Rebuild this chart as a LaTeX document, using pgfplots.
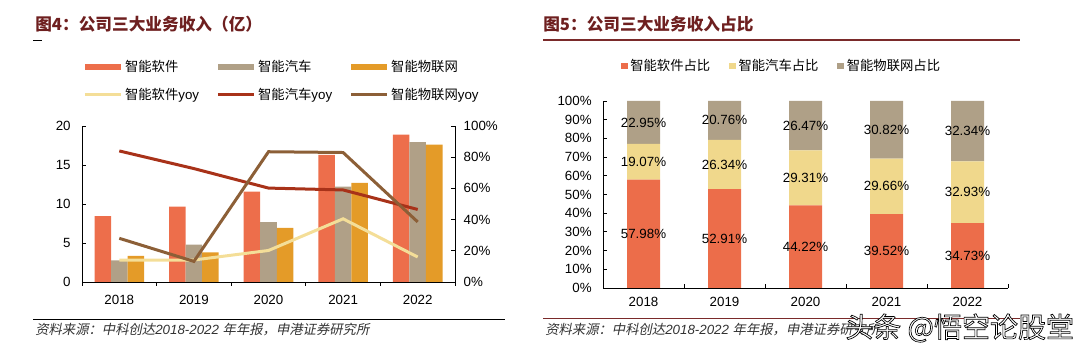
\documentclass[border=0pt]{standalone}
\usepackage{pgfplots}
\pgfplotsset{compat=1.18}
\usepackage{pgfplotstable}
\usepackage{fontspec}
\setmainfont{Liberation Sans}
\newfontfamily\cjk{Noto Sans CJK SC}
\newfontfamily\cjkit{Noto Sans CJK SC}[FakeSlant=0.2]
\pgfkeys{/pgf/number format/assume math mode=true}

\definecolor{cSW}{HTML}{ED6E4B}
\definecolor{cAU}{HTML}{B0A087}
\definecolor{cIOT}{HTML}{E49B28}
\definecolor{cYSW}{HTML}{F4DE98}
\definecolor{cYAU}{HTML}{A83219}
\definecolor{cYIOT}{HTML}{8C5F37}
\definecolor{cS1}{HTML}{EC6D4A}
\definecolor{cS2}{HTML}{F0D88C}
\definecolor{cS3}{HTML}{AFA087}
\definecolor{cTitle}{HTML}{6E1F1F}
\definecolor{cRule}{HTML}{7A2A2A}

\pgfplotstableread{
x sw auto iot
0 8.46 2.78 3.35
1 9.65 4.80 3.79
2 11.60 7.69 6.94
3 16.30 12.23 12.71
4 18.90 17.92 17.60
}\revdata
\pgfplotstableread{
x sw auto iot
0 14.0 84.0 28.0
1 14.1 72.7 13.2
2 20.2 60.2 83.5
3 40.5 59.0 83.0
4 16.0 46.5 38.5
}\yoydata
\pgfplotstableread{
x sw auto iot
0 57.98 19.07 22.95
1 52.91 26.34 20.76
2 44.22 29.31 26.47
3 39.52 29.66 30.82
4 34.73 32.93 32.34
}\sharedata

\pgfplotsset{
  base/.style={
    scale only axis,
    xmin=-0.5, xmax=4.5,
    axis line style={line width=0.6pt, black},
    tick style={line width=0.6pt, black},
    tick align=inside,
    major tick length=3pt,
    tick label style={font=\fontsize{10}{12}\selectfont},
    xticklabel style={yshift=-3pt},
  },
  barlegend/.style={legend image code/.code={\fill[##1] (0pt,-2.5pt) rectangle (27pt,2.5pt);}},
  linelegend/.style={legend image code/.code={\draw[##1] (0pt,0pt) -- (27pt,0pt);}},
  sqlegend/.style={legend image code/.code={\fill[##1] (0pt,-2.6pt) rectangle (5.2pt,2.6pt);}},
}

\begin{document}
\begin{tikzpicture}
\useasboundingbox (0,0) rectangle (804.75pt,264pt);

% ---------------- left chart ----------------
\begin{axis}[base,
  at={(61.5pt,52.5pt)}, anchor=south west, width=279.75pt, height=117pt,
  axis x line*=bottom, axis y line*=left,
  ymin=0, ymax=20, ytick={0,5,10,15,20},
  yticklabel style={xshift=-5pt},
  xtick={-0.5,0.5,1.5,2.5,3.5,4.5}, xticklabels={},
  extra x ticks={0,1,2,3,4}, extra x tick labels={2018,2019,2020,2021,2022},
  extra x tick style={tick style={draw=none}},
  ybar=0pt, bar width=12.4pt,
  legend columns=3,
  legend cell align=left,
  legend style={draw=none, fill=none, at={(0.003,1.44)}, anchor=north west,
    font=\fontsize{10}{12}\selectfont, inner sep=0pt, row sep=7pt,
    /tikz/every even column/.append style={column sep=11pt}},
]
\addplot[fill=cSW, draw=none, barlegend] table[x=x,y=sw]{\revdata};
\addlegendentry{{\cjk 智能软件}}
\addplot[fill=cAU, draw=none, barlegend] table[x=x,y=auto]{\revdata};
\addlegendentry{{\cjk 智能汽车}}
\addplot[fill=cIOT, draw=none, barlegend] table[x=x,y=iot]{\revdata};
\addlegendentry{{\cjk 智能物联网}}
\addlegendimage{cYSW, line width=2.25pt, linelegend}
\addlegendentry{{\cjk 智能软件}yoy}
\addlegendimage{cYAU, line width=2.25pt, linelegend}
\addlegendentry{{\cjk 智能汽车}yoy}
\addlegendimage{cYIOT, line width=2.25pt, linelegend}
\addlegendentry{{\cjk 智能物联网}yoy}
\end{axis}

\begin{axis}[base,
  at={(61.5pt,52.5pt)}, anchor=south west, width=279.75pt, height=117pt,
  axis x line=none, axis y line*=right,
  ymin=0, ymax=100, ytick={0,20,...,100},
  yticklabel style={xshift=3pt},
  yticklabel={\pgfmathprintnumber{\tick}\%},
]
\addplot[cYSW, line width=2.25pt] table[x=x,y=sw]{\yoydata};
\addplot[cYAU, line width=2.25pt] table[x=x,y=auto]{\yoydata};
\addplot[cYIOT, line width=2.25pt] table[x=x,y=iot]{\yoydata};
\end{axis}

% ---------------- right chart ----------------
\begin{axis}[base,
  at={(452.25pt,48pt)}, anchor=south west, width=303.75pt, height=140.25pt,
  axis x line*=bottom, axis y line*=left,
  ymin=0, ymax=100, ytick={0,10,...,100},
  yticklabel style={xshift=-5pt},
  yticklabel={\pgfmathprintnumber{\tick}\%},
  xtick={-0.5,0.5,1.5,2.5,3.5,4.5}, xticklabels={},
  extra x ticks={0,1,2,3,4}, extra x tick labels={2018,2019,2020,2021,2022},
  extra x tick style={tick style={draw=none}},
  ybar stacked, bar width=24.75pt,
  clip=false,
  point meta=explicit,
  nodes near coords={\pgfmathprintnumber[fixed,fixed zerofill,precision=2]{\pgfplotspointmeta}\%},
  every node near coord/.append style={anchor=center, text=black,
    font=\fontsize{10}{12}\selectfont},
  legend columns=3,
  legend cell align=left,
  legend style={draw=none, fill=none, at={(0.043,1.187)}, anchor=west,
    font=\fontsize{10}{12}\selectfont, inner sep=0pt,
    /tikz/every even column/.append style={column sep=12pt}},
]
\addplot[fill=cS1, draw=none, sqlegend] table[x=x,y=sw,meta=sw]{\sharedata};
\addlegendentry{{\cjk 智能软件占比}}
\addplot[fill=cS2, draw=none, sqlegend] table[x=x,y=auto,meta=auto]{\sharedata};
\addlegendentry{{\cjk 智能汽车占比}}
\addplot[fill=cS3, draw=none, sqlegend] table[x=x,y=iot,meta=iot]{\sharedata};
\addlegendentry{{\cjk 智能物联网占比}}
\end{axis}

% ---------------- titles, rules, footers ----------------
\node[anchor=west, inner sep=0pt, text=cTitle, font=\cjk\bfseries\fontsize{12.5}{14}\selectfont] at (26.25pt,246pt) {图4：公司三大业务收入（亿）};
\node[anchor=west, inner sep=0pt, text=cTitle, font=\cjk\bfseries\fontsize{12.5}{14}\selectfont] at (407.25pt,246pt) {图5：公司三大业务收入占比};
\draw[black, line width=0.6pt] (24.75pt,234pt) -- (31.5pt,234pt);
\draw[cRule, line width=0.9pt] (407.25pt,234pt) -- (765pt,234pt);

\draw[black, line width=0.7pt] (24.75pt,24.75pt) -- (378.75pt,24.75pt);
\draw[cRule, line width=0.7pt] (407.25pt,25.5pt) -- (765pt,25.5pt);

\node[anchor=west, inner sep=0pt, text=black!80, font=\fontsize{10}{12}\selectfont] at (26.25pt,16.5pt)
  {{\cjkit 资料来源：中科创达}{\itshape 2018-2022 }{\cjkit 年年报，申港证券研究所}};
\node[anchor=west, inner sep=0pt, text=black!80, font=\fontsize{10}{12}\selectfont] at (408.75pt,16.5pt)
  {{\cjkit 资料来源：中科创达}{\itshape 2018-2022 }{\cjkit 年年报，申港证券研究所}};

\node[anchor=west, inner sep=0pt, text=white, font=\cjk\fontsize{21}{24}\selectfont] at (633.75pt,18pt)
  {\special{pdf:literal direct 0 G 2 Tr 0.5 w}头条 @悟空论股堂\special{pdf:literal direct 0 Tr}};
\end{tikzpicture}
\end{document}
